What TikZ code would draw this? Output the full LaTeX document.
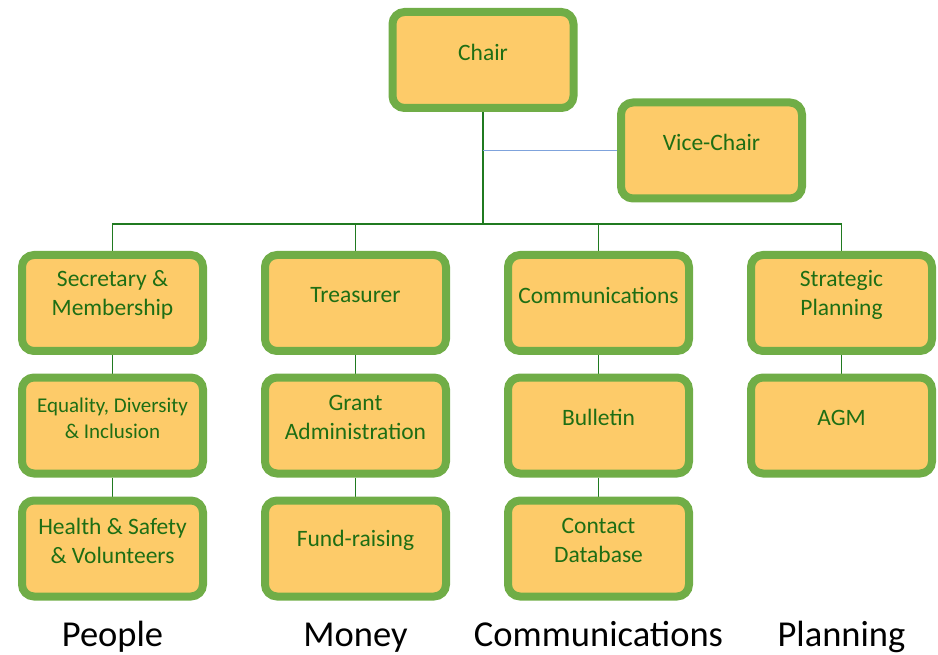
\documentclass[tikz,border=0pt]{standalone}
\usepackage{fontspec}
\setmainfont{Carlito}
\usetikzlibrary{backgrounds}
\definecolor{boxfill}{HTML}{FDCB69}
\definecolor{boxline}{HTML}{70AD47}
\definecolor{txtgreen}{HTML}{1E6E14}
\definecolor{conngreen}{HTML}{207A20}
\definecolor{connblue}{HTML}{7FA3DC}
\tikzset{
  box/.style={draw=boxline, fill=boxfill, line width=8pt, rounded corners=12pt,
    minimum width=181pt, minimum height=96pt, inner sep=0pt},
  boxtxt/.style={text=txtgreen, align=center, inner sep=0pt,
    font=\fontsize{23.5}{29}\selectfont},
  smalltxt/.style={boxtxt, font=\fontsize{21}{26}\selectfont},
  grouplbl/.style={anchor=base, inner sep=0pt, text=black,
    font=\fontsize{36.5}{40}\selectfont},
  conn/.style={draw=conngreen, line width=1.4pt},
  connb/.style={draw=connblue, line width=1.4pt}
}
\begin{document}
\begin{tikzpicture}[x=1pt,y=-1pt]
\useasboundingbox (0,0) rectangle (938,655);
% boxes
\node[box] (chair) at (483,60) {};
\node[boxtxt] (chairT) at ([yshift=8pt]chair.center) {Chair};
\node[box] (vice) at (711.5,150.5) {};
\node[boxtxt] (viceT) at ([yshift=8pt]vice.center) {Vice-Chair};

\node[box] (sec) at (112.5,303) {};
\node[boxtxt] (secT) at ([yshift=8pt]sec.center) {Secretary \&\\Membership};
\node[box] (edi) at (112.5,425.5) {};
\node[smalltxt] (ediT) at ([yshift=7pt]edi.center) {Equality, Diversity\\\& Inclusion};
\node[box] (hs) at (112.5,548.5) {};
\node[boxtxt] (hsT) at ([yshift=8pt]hs.center) {Health \& Safety\\\& Volunteers};

\node[box] (tre) at (355.5,303) {};
\node[boxtxt] (treT) at ([yshift=8pt]tre.center) {Treasurer};
\node[box] (grant) at (355.5,425.5) {};
\node[boxtxt] (grantT) at ([yshift=8pt]grant.center) {Grant\\Administration};
\node[box] (fund) at (355.5,548.5) {};
\node[boxtxt] (fundT) at ([yshift=8pt]fund.center) {Fund-raising};

\node[box] (comm) at (598.5,303) {};
\node[boxtxt] (commT) at ([yshift=8pt]comm.center) {Communications};
\node[box] (bull) at (598.5,425.5) {};
\node[boxtxt] (bullT) at ([yshift=8pt]bull.center) {Bulletin};
\node[box] (cont) at (598.5,548.5) {};
\node[boxtxt] (contT) at ([yshift=8pt]cont.center) {Contact\\Database};

\node[box] (strat) at (841.5,303) {};
\node[boxtxt] (stratT) at ([yshift=8pt]strat.center) {Strategic\\Planning};
\node[box] (agm) at (841.5,425.5) {};
\node[boxtxt] (agmT) at ([yshift=8pt]agm.center) {AGM};

% group labels
\node[grouplbl] (lp) at (112.5,646) {People};
\node[grouplbl] (lm) at (355.5,646) {Money};
\node[grouplbl] (lc) at (598.5,646) {Communications};
\node[grouplbl] (lpl) at (841.5,646) {Planning};

\coordinate (bus) at (483,224);
\begin{scope}[on background layer]
\draw[conn] (chair.south) -- (bus);
\draw[connb] (vice.west) -- (vice.west -| chair.south);
\draw[conn] (sec.north) |- (strat.north |- bus) -- (strat.north);
\draw[conn] (tre.north) -- (tre.north |- bus);
\draw[conn] (comm.north) -- (comm.north |- bus);
\draw[conn] (sec) -- (edi);
\draw[conn] (edi) -- (hs);
\draw[conn] (tre) -- (grant);
\draw[conn] (grant) -- (fund);
\draw[conn] (comm) -- (bull);
\draw[conn] (bull) -- (cont);
\draw[conn] (strat) -- (agm);
\end{scope}
\end{tikzpicture}
\end{document}
